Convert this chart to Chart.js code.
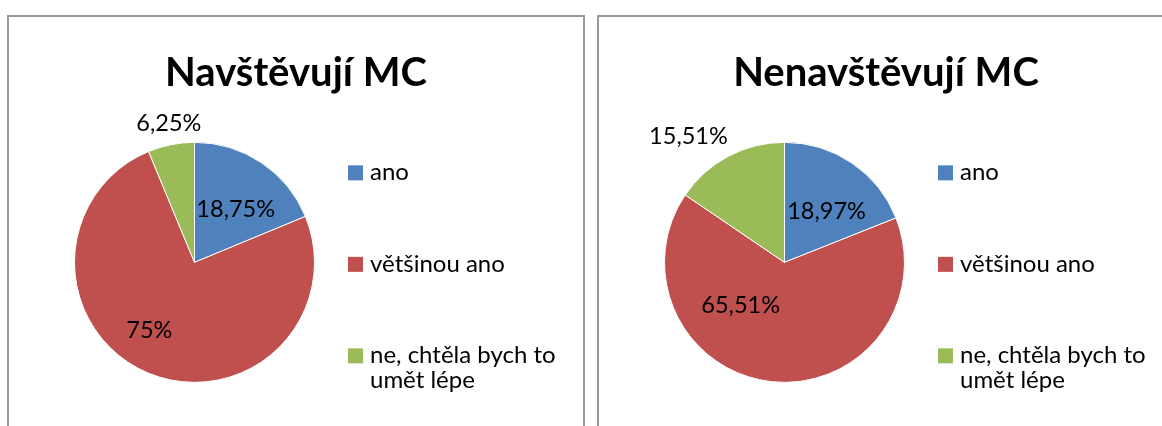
<!DOCTYPE html>
<html>
<head>
<meta charset="utf-8">
<script src="https://cdn.jsdelivr.net/npm/chart.js@4/dist/chart.umd.min.js"></script>
<style>
    html, body { margin: 0; padding: 0; background: #fff; overflow: hidden; width: 1162px; height: 426px; }
    .box { position: absolute; top: 15px; width: 574px; height: 430px; border: 2px solid #999; background: #fff; }
    #boxLeft { left: 7px; }
    #boxRight { left: 597px; }
</style>
</head>
<body>
<div class="box" id="boxLeft"><canvas id="chartLeft" width="574" height="420"></canvas></div>
<div class="box" id="boxRight"><canvas id="chartRight" width="574" height="420"></canvas></div>
<script>
const categories = ['ano', 'většinou ano', 'ne, chtěla bych to umět lépe'];

const titleLeft = 'Navštěvují MC';
const valuesLeft = [18.75, 75, 6.25];

const titleRight = 'Nenavštěvují MC';
const valuesRight = [18.97, 65.51, 15.51];

const sliceColors = ['#4F81BD', '#C0504D', '#9BBB59'];
const fontFamily = 'Lato, Carlito, Calibri, sans-serif';

// chart title centred over the whole box (not only the pie area)
const boxTitle = {
    id: 'boxTitle',
    afterDraw(chart, args, opts) {
        const ctx = chart.ctx;
        ctx.save();
        ctx.font = 'bold ' + opts.size + 'px ' + fontFamily;
        ctx.fillStyle = '#000';
        ctx.textAlign = 'center';
        ctx.textBaseline = 'alphabetic';
        ctx.fillText(opts.text, chart.width / 2, opts.baseline);
        ctx.restore();
    }
};

// data labels, placed from the arc geometry (radius factor, turn in degrees)
const pieLabels = {
    id: 'pieLabels',
    afterDatasetsDraw(chart, args, opts) {
        const ctx = chart.ctx;
        const meta = chart.getDatasetMeta(0);
        const values = chart.data.datasets[0].data;
        ctx.save();
        ctx.font = opts.size + 'px ' + fontFamily;
        ctx.fillStyle = '#000';
        ctx.textAlign = 'center';
        ctx.textBaseline = 'middle';
        meta.data.forEach((arc, i) => {
            const p = arc.getProps(['x', 'y', 'startAngle', 'endAngle', 'outerRadius'], true);
            const place = opts.place[i];
            const mid = (p.startAngle + p.endAngle) / 2 + place[1] * Math.PI / 180;
            const d = p.outerRadius * place[0];
            const txt = String(values[i]).replace('.', ',') + '%';
            ctx.fillText(txt, p.x + Math.cos(mid) * d, p.y + Math.sin(mid) * d);
        });
        ctx.restore();
    }
};

// legend on the right of the pie, Excel style
const sideLegend = {
    id: 'sideLegend',
    afterDraw(chart, args, opts) {
        const ctx = chart.ctx;
        const area = chart.chartArea;
        const cy = (area.top + area.bottom) / 2;
        const x = area.right + opts.gap;
        const tx = x + opts.box + 7;
        const maxW = chart.width - tx - 6;
        ctx.save();
        ctx.font = opts.size + 'px ' + fontFamily;
        ctx.textAlign = 'left';
        ctx.textBaseline = 'alphabetic';
        let base = cy - opts.firstOffset;
        chart.data.labels.forEach((lbl, i) => {
            // wrap words
            const words = lbl.split(' ');
            const lines = [];
            let cur = '';
            words.forEach(w => {
                const test = cur ? cur + ' ' + w : w;
                if (cur && ctx.measureText(test).width > maxW) {
                    lines.push(cur);
                    cur = w;
                } else {
                    cur = test;
                }
            });
            lines.push(cur);
            ctx.fillStyle = chart.data.datasets[0].backgroundColor[i];
            ctx.fillRect(x, base - opts.box, opts.box, opts.box);
            ctx.fillStyle = '#000';
            lines.forEach((ln, k) => ctx.fillText(ln, tx, base + k * opts.lineH));
            base += lines.length * opts.lineH + opts.itemGap;
        });
        ctx.restore();
    }
};

function makePie(id, title, values, place) {
    const ctx = document.getElementById(id).getContext('2d');
    return new Chart(ctx, {
        type: 'pie',
        data: {
            labels: categories,
            datasets: [{
                data: values,
                backgroundColor: sliceColors,
                borderColor: '#ffffff',
                borderWidth: 1
            }]
        },
        options: {
            responsive: false,
            animation: false,
            layout: {
                padding: { left: 65, right: 268, top: 124.7, bottom: 54 }
            },
            plugins: {
                legend: { display: false },
                tooltip: { enabled: false },
                title: { display: false },
                boxTitle: { text: title, size: 40, baseline: 69 },
                pieLabels: { size: 23.5, place: place },
                sideLegend: { size: 24, box: 15, gap: 33, lineH: 25, itemGap: 66.5, firstOffset: 82 }
            }
        },
        plugins: [boxTitle, pieLabels, sideLegend]
    });
}

makePie('chartLeft', titleLeft, valuesLeft, [[0.556, 4.4], [0.682, 11], [1.177, 0.8]]);
makePie('chartRight', titleRight, valuesRight, [[0.549, 5.5], [0.511, 39.4], [1.317, -9.5]]);
</script>
</body>
</html>
